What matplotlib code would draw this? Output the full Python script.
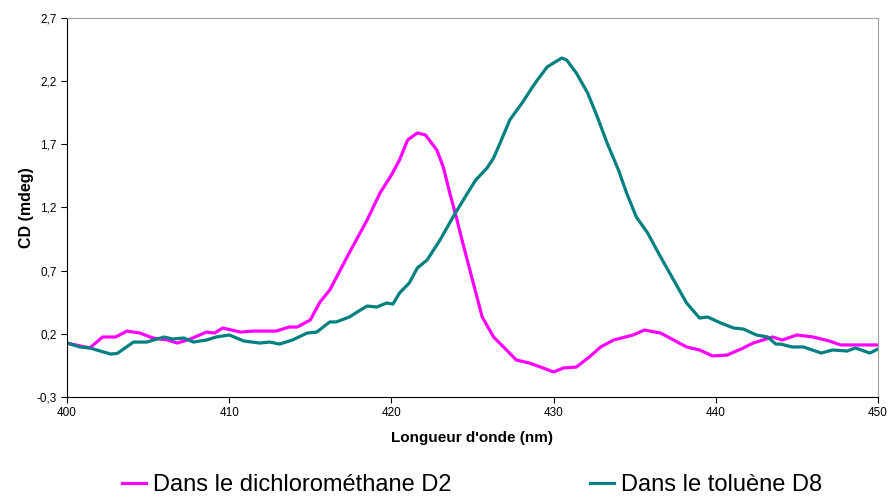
import matplotlib.pyplot as plt
from matplotlib.ticker import FuncFormatter

plt.rcParams['font.family'] = ['Liberation Sans', 'DejaVu Sans']

# dichloromethane D2 (magenta)
x_d2 = [400.0, 401.4, 402.2, 403.0, 403.7, 404.5, 405.3, 406.2, 406.8, 407.6,
        408.6, 409.1, 409.6, 410.7, 411.5, 412.9, 413.7, 414.2, 415.0, 415.6,
        416.2, 417.4, 418.5, 419.3, 420.0, 420.5, 421.0, 421.6, 422.1, 422.8,
        423.2, 423.6, 424.0, 424.4, 425.0, 425.6, 426.3, 427.1, 427.7, 428.5,
        429.2, 430.0, 430.6, 431.4, 432.2, 432.9, 433.7, 434.9, 435.6, 436.6,
        438.2, 439.0, 439.8, 440.7, 441.7, 442.3, 443.5, 444.1, 445.0, 446.0,
        447.0, 447.7, 448.7, 450.0]
y_d2 = [0.127, 0.088, 0.175, 0.175, 0.222, 0.206, 0.167, 0.151, 0.127, 0.159,
        0.214, 0.206, 0.246, 0.214, 0.222, 0.222, 0.254, 0.254, 0.31, 0.452,
        0.547, 0.84, 1.10, 1.315, 1.457, 1.576, 1.734, 1.79, 1.774, 1.655,
        1.52, 1.315, 1.125, 0.919, 0.626, 0.333, 0.175, 0.072, -0.007, -0.031,
        -0.063, -0.102, -0.07, -0.063, 0.016, 0.096, 0.151, 0.191, 0.23, 0.206,
        0.096, 0.072, 0.025, 0.032, 0.088, 0.127, 0.175, 0.151, 0.191, 0.175,
        0.143, 0.112, 0.112, 0.112]

# toluene D8 (teal)
x_d8 = [400.0, 400.8, 401.4, 402.7, 403.1, 404.1, 404.9, 406.0, 406.5, 407.2,
        407.8, 408.6, 409.2, 410.0, 410.9, 411.9, 412.5, 413.1, 413.9, 414.8,
        415.4, 416.2, 416.6, 417.4, 418.1, 418.5, 419.1, 419.7, 420.1, 420.5,
        421.1, 421.6, 422.2, 423.0, 423.8, 424.7, 425.2, 425.9, 426.3, 426.7,
        427.3, 428.1, 428.7, 429.0, 429.6, 430.1, 430.5, 430.8, 431.4, 432.1,
        432.7, 433.3, 434.0, 434.5, 435.1, 435.8, 436.6, 437.4, 438.2, 439.0,
        439.5, 440.3, 441.1, 441.7, 442.5, 443.2, 443.7, 444.0, 444.7, 445.4,
        446.5, 447.2, 448.1, 448.6, 449.5, 450.0]
y_d8 = [0.127, 0.096, 0.088, 0.04, 0.045, 0.135, 0.135, 0.175, 0.159, 0.167,
        0.135, 0.151, 0.175, 0.191, 0.143, 0.127, 0.135, 0.119, 0.151, 0.206,
        0.214, 0.294, 0.294, 0.333, 0.389, 0.42, 0.412, 0.444, 0.436, 0.523,
        0.602, 0.721, 0.784, 0.943, 1.125, 1.315, 1.418, 1.513, 1.592, 1.71,
        1.893, 2.035, 2.154, 2.209, 2.312, 2.352, 2.383, 2.368, 2.265, 2.106,
        1.916, 1.71, 1.497, 1.315, 1.125, 0.998, 0.808, 0.626, 0.444, 0.325,
        0.333, 0.286, 0.246, 0.238, 0.191, 0.175, 0.119, 0.119, 0.096, 0.096,
        0.048, 0.072, 0.064, 0.088, 0.048, 0.08]

y_ticks = [-0.3, 0.2, 0.7, 1.2, 1.7, 2.2, 2.7]
x_ticks = [400, 410, 420, 430, 440, 450]

fig = plt.figure(figsize=(8.92, 4.97), dpi=100)
ax = fig.add_axes([0.0751, 0.2012, 0.9092, 0.7626])

l1, = ax.plot(x_d2, y_d2, color='#FF00FF', lw=2.3, solid_joinstyle='round',
              label='Dans le dichlorométhane D2')
l2, = ax.plot(x_d8, y_d8, color='#008080', lw=2.3, solid_joinstyle='round',
              label='Dans le toluène D8')

ax.set_xlim(400, 450)
ax.set_ylim(-0.3, 2.7)
ax.set_xticks(x_ticks)
ax.set_yticks(y_ticks)
ax.yaxis.set_major_formatter(FuncFormatter(lambda v, p: f'{v:.1f}'.replace('.', ',')))
ax.tick_params(direction='out', length=4, width=0.8, labelsize=8.5, color='black')

for s in ['left', 'bottom']:
    ax.spines[s].set_color('black')
for s in ['top', 'right']:
    ax.spines[s].set_color('#A0A0A0')

ax.set_xlabel("Longueur d'onde (nm)", fontsize=11, fontweight='bold', labelpad=8)
ax.set_ylabel('CD (mdeg)', fontsize=11.5, fontweight='bold', labelpad=2)

# two separate legend entries, placed like the original
yleg = 1 - 485 / 497
for line, xpos in [(l1, 122 / 892), (l2, 590 / 892)]:
    fig.legend([line], [line.get_label()], loc='center left',
               bbox_to_anchor=(xpos, yleg), frameon=False, fontsize=17,
               handlelength=1.0, handletextpad=0.3, borderpad=0, borderaxespad=0)

fig.savefig('out.png', dpi=100)
